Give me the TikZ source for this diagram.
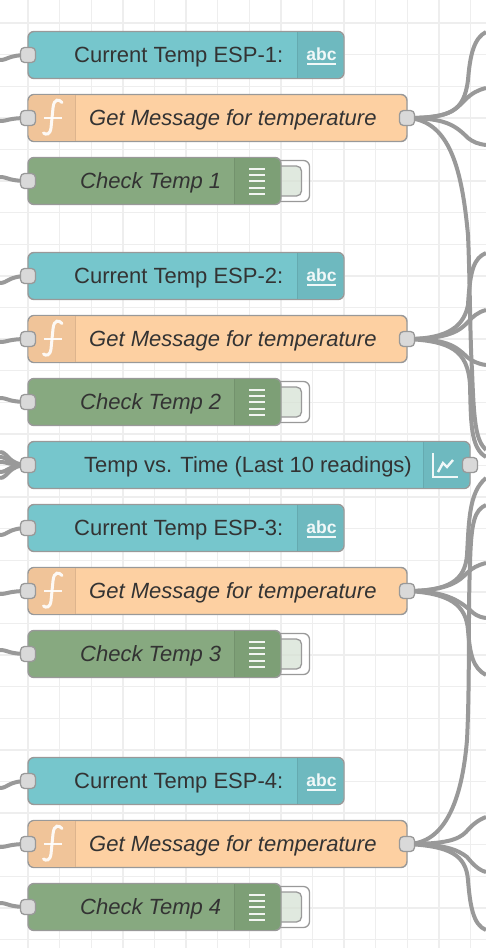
\documentclass[tikz,border=0pt]{standalone}
\usepackage{fontspec}
\setmainfont{Liberation Sans}
\usetikzlibrary{backgrounds}
\definecolor{uitext}{HTML}{76C6CC}
\definecolor{uipanel}{HTML}{6EB9BF}
\definecolor{funcbody}{HTML}{FDD0A2}
\definecolor{funcpanel}{HTML}{F0C499}
\definecolor{debugbody}{HTML}{87A980}
\definecolor{debugpanel}{HTML}{7D9F76}
\definecolor{wiregrey}{HTML}{999999}
\definecolor{gridgrey}{HTML}{EEEEEE}
\definecolor{inkgrey}{HTML}{333333}
\tikzstyle{flownode} = [draw=wiregrey, line width=1.4pt, rounded corners=6pt, minimum height=47pt, inner sep=0pt, outer sep=0pt]
\tikzstyle{port} = [draw=wiregrey, fill=black!15, line width=1.3pt, rounded corners=4pt, minimum size=15pt, inner sep=0pt, outer sep=0pt]
\tikzstyle{lab} = [anchor=west, inner sep=0pt, text=inkgrey, font=\fontsize{22}{24}\selectfont]
\tikzstyle{itlab} = [lab, font=\fontsize{22}{24}\selectfont\itshape]
\tikzstyle{wire} = [draw=wiregrey, line width=4pt]
\tikzstyle{icon} = [draw=white, line width=2.6pt, opacity=.9]
\newcommand{\rightpanel}[4]{% colour, x from, x to, row
    \fill[#1] [sharp corners] (#2,#4-22.8) [rounded corners=5.5pt] -- (#3,#4-22.8) -- (#3,#4+22.8) [sharp corners] -- (#2,#4+22.8) -- cycle;
}
\begin{document}
\begin{tikzpicture}[x=1pt,y=-1pt]
    \useasboundingbox (0,0) rectangle (486,948);
    % text nodes
    \foreach \i/\yy in {1/55,2/276,3/528,4/781}{
        \node[flownode, fill=uitext, minimum width=316pt] (esp\i) at (186,\yy) {};
        \rightpanel{uipanel}{297}{343.2}{\yy}
        \draw[uipanel!92!black, line width=1pt] (297,\yy-23) -- (297,\yy+23);
        \node[lab] (esplab\i) at (74,\yy+2) {Current Temp ESP-\i:};
        \node[inner sep=0pt, text=white, opacity=.9, font=\fontsize{17.5}{20}\selectfont\bfseries] (abc\i) at (321.5,\yy-1) {abc};
        \draw[icon] (307,\yy+9) -- (336,\yy+9);
        \node[port] (espin\i) at (28,\yy) {};
    }
    % function nodes
    \foreach \i/\yy in {1/118,2/339,3/591,4/844}{
        \node[flownode, fill=funcbody, minimum width=379pt] (func\i) at (217.5,\yy) {};
        \fill[funcpanel] [rounded corners=5.5pt] (75,\yy-22.8) [sharp corners] -- (75,\yy+22.8) [rounded corners=5.5pt] -- (28.7,\yy+22.8) -- (28.7,\yy-22.8) [sharp corners] -- cycle;
        \draw[funcpanel!92!black, line width=1pt] (75,\yy-23) -- (75,\yy+23);
        \node[itlab] (funclab\i) at (89,\yy+2) {Get Message for temperature};
        \draw[icon, line width=3pt, line cap=round] (62,\yy-15.5) .. controls (59,\yy-19) and (54,\yy-20) .. (53,\yy-10) -- (51,\yy+10) .. controls (50,\yy+17) and (46,\yy+17) .. (43.5,\yy+15);
        \draw[icon] (44,\yy) -- (62,\yy);
        \node[port] (funcin\i) at (28,\yy) {};
        \node[port] (funcout\i) at (407,\yy) {};
    }
    % debug nodes
    \foreach \i/\yy in {1/181,2/402,3/654,4/907}{
        \node[draw=wiregrey, fill=white, fill opacity=.7, line width=1.3pt, rounded corners=6pt, minimum width=39pt, minimum height=41pt, outer sep=0pt] (btn\i) at (290,\yy) {};
        \node[draw=wiregrey, fill=debugbody, fill opacity=.25, line width=1.3pt, rounded corners=5pt, minimum width=31pt, minimum height=30pt, outer sep=0pt] (btnin\i) at (286,\yy) {};
        \node[flownode, fill=debugbody, minimum width=253pt] (check\i) at (154.5,\yy) {};
        \rightpanel{debugpanel}{234}{280.2}{\yy}
        \draw[debugpanel!92!black, line width=1pt] (234,\yy-23) -- (234,\yy+23);
        \node[itlab] (checklab\i) at (80,\yy+2) {Check Temp \i};
        \foreach \dy in {-12.5,-6.2,0,6.5,13}{
            \draw[icon, line width=2pt] (249,\yy+\dy) -- (265,\yy+\dy);
        }
        \node[port] (checkin\i) at (28,\yy) {};
    }
    % chart node
    \node[flownode, fill=uitext, minimum width=442pt] (chart) at (249,465) {};
    \rightpanel{uipanel}{423}{469.2}{465}
    \draw[uipanel!92!black, line width=1pt] (423,442) -- (423,488);
    \node[lab] (chartlab) at (84,467) {Temp vs. Time (Last 10 readings)};
    \draw[icon, line width=1.7pt] (433,453) -- (433,477) -- (458,477);
    \draw[icon, line width=2.4pt] (438,472) -- (443,463) -- (447,467) -- (453,460);
    \node[port] (chartin) at (28,465) {};
    \node[port] (chartout) at (470,465) {};
    % free wire ends
    \foreach \nm/\yy in {a/60,b/121,c/177,d/283,e/342,f/398,g/535,h/594,i/650,j/788,k/847,l/903,
                         m/452,n/457,o/462,p/472,q/478}{
        \coordinate (west\nm) at (0,\yy);
    }
    \foreach \nm/\yy in {a/32,b/88,c/145,d/253,e/310,f/365,g/450,h/457,i/478,j/563,k/618,l/675,
                         m/505,n/817,o/872,p/930}{
        \coordinate (east\nm) at (486,\yy);
    }
    \begin{scope}[on background layer]
        \fill[white] (0,0) rectangle (486,948);
        % grid
        \foreach \k in {0,...,14}{
            \draw[gridgrey, line width=1.4pt] (28+31.6*\k,0) -- (28+31.6*\k,948);
        }
        \foreach \k in {1,...,30}{
            \draw[gridgrey, line width=1.4pt] (0,-8.6+31.6*\k) -- (486,-8.6+31.6*\k);
        }
        % wires on the left
        \foreach \nm/\dest in {a/espin1,b/funcin1,c/checkin1,d/espin2,e/funcin2,f/checkin2,g/espin3,h/funcin3,i/checkin3,j/espin4,k/funcin4,l/checkin4,m/chartin,n/chartin,o/chartin,p/chartin,q/chartin}{
            \draw[wire] (west\nm) .. controls (8,0 |- west\nm) and (8,0 |- \dest.center) .. (\dest.center);
        }
        % wires on the right
        \draw[wire] (funcout1.center) .. controls (450,118) and (464,112) .. (468,80) .. controls (470,55) and (474,38) .. (easta);
        \draw[wire] (funcout1.center) .. controls (450,118) and (455,110) .. (465,100) .. controls (472,93) and (478,90) .. (eastb);
        \draw[wire] (funcout1.center) .. controls (445,118) and (455,125) .. (468,138) .. controls (473,142) and (478,144) .. (eastc);
        \draw[wire] (funcout1.center) .. controls (450,120) and (462,170) .. (468,235) .. controls (470,280) and (470,340) .. (472,370) .. controls (474,425) and (476,440) .. (eastg);
        \draw[wire] (funcout2.center) .. controls (450,339) and (464,325) .. (468,305) .. controls (470,270) and (474,258) .. (eastd);
        \draw[wire] (funcout2.center) .. controls (450,339) and (460,330) .. (467,323) .. controls (472,317) and (478,312) .. (easte);
        \draw[wire] (funcout2.center) .. controls (445,339) and (455,345) .. (467,357) .. controls (472,361) and (478,364) .. (eastf);
        \draw[wire] (funcout2.center) .. controls (450,341) and (468,350) .. (470,385) .. controls (471,420) and (470,448) .. (easth);
        \draw[wire] (funcout3.center) .. controls (450,591) and (465,580) .. (467,555) .. controls (469,520) and (469,492) .. (easti);
        \draw[wire] (funcout3.center) .. controls (450,591) and (460,580) .. (467,573) .. controls (472,568) and (478,565) .. (eastj);
        \draw[wire] (funcout3.center) .. controls (445,591) and (458,600) .. (470,610) .. controls (474,614) and (478,617) .. (eastk);
        \draw[wire] (funcout3.center) .. controls (450,593) and (466,605) .. (468,630) .. controls (470,655) and (473,668) .. (eastl);
        \draw[wire] (funcout4.center) .. controls (445,844) and (462,800) .. (467,740) .. controls (470,680) and (468,610) .. (470,565) .. controls (471,520) and (475,510) .. (eastm);
        \draw[wire] (funcout4.center) .. controls (445,844) and (458,840) .. (466,832) .. controls (472,825) and (478,820) .. (eastn);
        \draw[wire] (funcout4.center) .. controls (445,844) and (458,850) .. (467,857) .. controls (472,863) and (478,870) .. (easto);
        \draw[wire] (funcout4.center) .. controls (450,846) and (466,855) .. (468,880) .. controls (470,905) and (473,925) .. (eastp);
    \end{scope}
\end{tikzpicture}
\end{document}
